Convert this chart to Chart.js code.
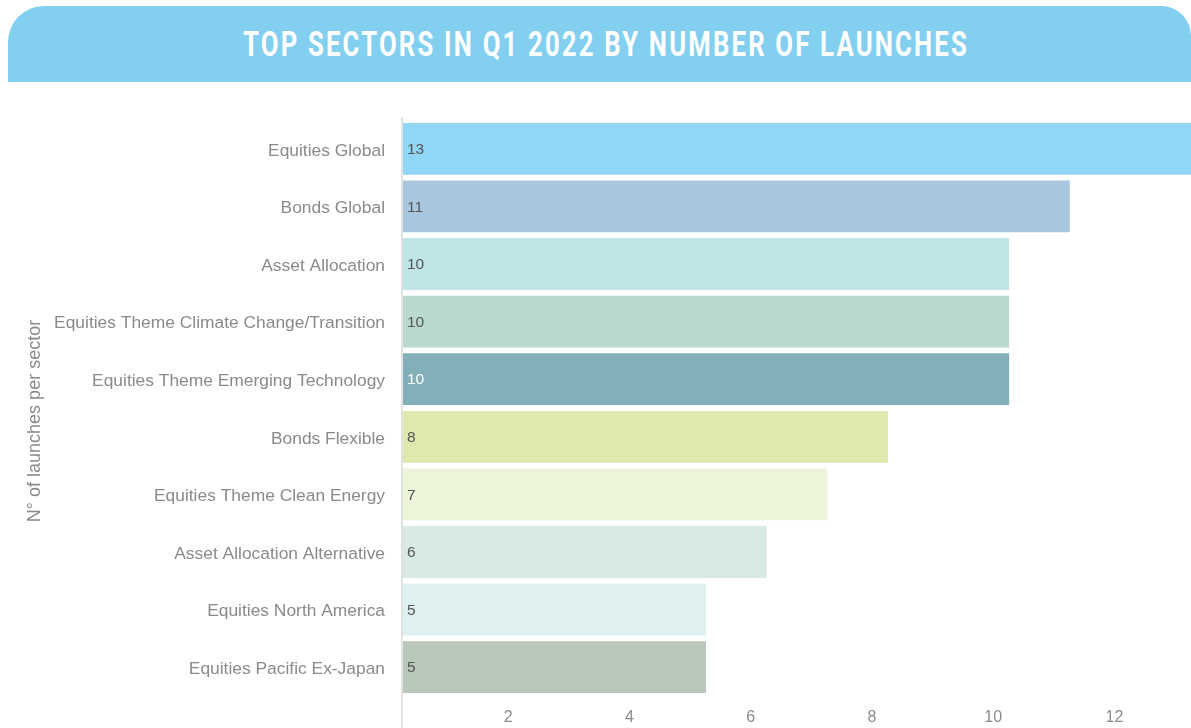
<!DOCTYPE html>
<html>
<head>
<meta charset="utf-8">
<script src="https://cdn.jsdelivr.net/npm/chart.js@4/dist/chart.umd.min.js"></script>
<style>
  html, body { margin: 0; padding: 0; background: #ffffff; width: 1191px; height: 728px; overflow: hidden; }
  #banner {
    position: absolute; left: 8px; top: 6px; width: 1183px; height: 76px;
    background: #82cff0; border-radius: 36px 30px 0 0;
  }
  #title {
    position: absolute; top: 0; white-space: nowrap;
    line-height: 78px; margin: 0;
    font-family: Roboto, "Liberation Sans", sans-serif;
    font-weight: 700; font-size: 35px; letter-spacing: 3px; color: #ffffff;
    transform-origin: 0 50%;
  }
  #chart { position: absolute; left: 0; top: 0; }
</style>
</head>
<body>
<div id="banner"><span id="title">TOP SECTORS IN Q1 2022 BY NUMBER OF LAUNCHES</span></div>
<canvas id="chart" width="1191" height="728"></canvas>
<script>
// Sectors and their launch counts, Q1 2022
const sectors = [
  "Equities Global",
  "Bonds Global",
  "Asset Allocation",
  "Equities Theme Climate Change/Transition",
  "Equities Theme Emerging Technology",
  "Bonds Flexible",
  "Equities Theme Clean Energy",
  "Asset Allocation Alternative",
  "Equities North America",
  "Equities Pacific Ex-Japan"
];
const launches = [13, 11, 10, 10, 10, 8, 7, 6, 5, 5];
const barColors = [
  "#8fd7f5", "#a9c6e1", "#c0e5e6", "#bad8d0", "#83afb8",
  "#dfe9af", "#ecf4d9", "#d9e9e6", "#def0f0", "#b9c8bb"
];
const valueColors = [
  "#555555", "#555555", "#555555", "#555555", "#ffffff",
  "#555555", "#555555", "#555555", "#555555", "#555555"
];
const xTickValues = [2, 4, 6, 8, 10, 12];
const yAxisTitle = "N\u00b0 of launches per sector";

const FONT = "'Liberation Sans', Arial, sans-serif";

// Condensed banner heading: squeeze the bold face horizontally into its slot
(function fitTitle() {
  const el = document.getElementById("title");
  const target = 726, left = 243 - 8;
  const w = el.getBoundingClientRect().width;
  el.style.left = left + "px";
  el.style.transform = "scaleX(" + (target / w) + ")";
})();

// Thin vertical axis line, rotated axis title and value labels inside the bars
const decorations = {
  id: "decorations",
  beforeDatasetsDraw(chart) {
    const ctx = chart.ctx;
    const area = chart.chartArea;
    ctx.save();
    ctx.fillStyle = "#e2e2e2";
    ctx.fillRect(area.left - 2, area.top - 3, 2, chart.height - area.top + 3);
    ctx.restore();
  },
  afterDatasetsDraw(chart) {
    const ctx = chart.ctx;
    const meta = chart.getDatasetMeta(0);
    ctx.save();
    ctx.font = "15.5px " + FONT;
    ctx.textBaseline = "middle";
    ctx.textAlign = "left";
    meta.data.forEach((bar, i) => {
      ctx.fillStyle = valueColors[i];
      ctx.fillText(String(launches[i]), bar.base + 4, bar.y + 1);
    });
    ctx.restore();
  },
  afterDraw(chart) {
    const ctx = chart.ctx;
    ctx.save();
    ctx.translate(35, 421);
    ctx.rotate(-Math.PI / 2);
    ctx.font = "18px " + FONT;
    ctx.fillStyle = "#8a8a8a";
    ctx.textAlign = "center";
    ctx.textBaseline = "middle";
    ctx.fillText(yAxisTitle, 0, 0);
    ctx.restore();
  }
};

new Chart(document.getElementById("chart"), {
  type: "bar",
  data: {
    labels: sectors,
    datasets: [{
      data: launches,
      backgroundColor: barColors,
      borderWidth: 0,
      barPercentage: 0.9,
      categoryPercentage: 1.0
    }]
  },
  options: {
    indexAxis: "y",
    responsive: false,
    animation: false,
    layout: { padding: { top: 120, left: 0, right: 0, bottom: 0 } },
    plugins: {
      legend: { display: false },
      tooltip: { enabled: false },
      title: { display: false }
    },
    scales: {
      x: {
        min: 0,
        max: 13,
        grid: { display: false, drawTicks: false },
        border: { display: false },
        afterBuildTicks(scale) {
          scale.ticks = xTickValues.map(v => ({ value: v }));
        },
        afterFit(scale) { scale.height = 32; },
        ticks: {
          padding: 12,
          labelOffset: -16,
          color: "#8a8a8a",
          font: { family: FONT, size: 16 },
          maxRotation: 0
        }
      },
      y: {
        grid: { display: false, drawTicks: false },
        border: { display: false },
        afterFit(scale) { scale.width = 403; },
        ticks: {
          padding: 18,
          labelOffset: 2,
          color: "#8a8a8a",
          font: { family: FONT, size: 17.4 }
        }
      }
    }
  },
  plugins: [decorations]
});
</script>
</body>
</html>
